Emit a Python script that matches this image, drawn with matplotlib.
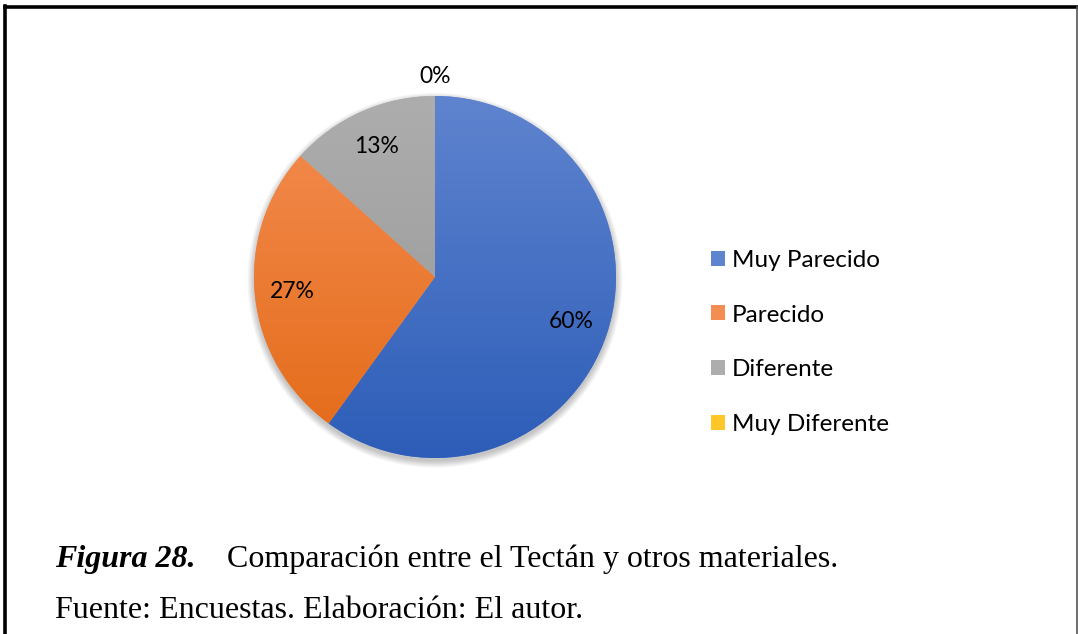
import numpy as np
import matplotlib.pyplot as plt
from matplotlib.patches import Patch
from matplotlib.lines import Line2D
from matplotlib.colors import LinearSegmentedColormap

# respuestas de la encuesta (15 encuestados)
categorias = ['Muy Parecido', 'Parecido', 'Diferente', 'Muy Diferente']
respuestas = [9, 4, 2, 0]

colores_claros = ['#5F84CF', '#F48D52', '#ADADAD', '#FFC629']
colores_oscuros = ['#2D5DB8', '#E36A17', '#969696', '#E8AE00']

W, H = 1078, 634
fig = plt.figure(figsize=(W / 100, H / 100), dpi=100)

# marco del documento
fig.add_artist(Line2D([5 / W, 5 / W], [0, 1 - 6 / H], color='black', lw=2.6))
fig.add_artist(Line2D([5 / W, 1], [1 - 7 / H, 1 - 7 / H], color='black', lw=2.6))
fig.add_artist(Line2D([1076.5 / W, 1076.5 / W], [0, 1 - 7 / H], color='#555555', lw=1.2))

cx, cy, r = 435, 277, 181
ax = fig.add_axes([(cx - r) / W, (H - cy - r) / H, 2 * r / W, 2 * r / H])

wedges, textos, pcts = ax.pie(respuestas, colors=colores_claros, startangle=90,
                              counterclock=False, autopct='%.0f%%',
                              pctdistance=0.79, radius=1,
                              textprops=dict(fontsize=16.5, family='Lato', color='black'))

# sombra suave
for k in range(10):
    ax.add_patch(plt.Circle((0.0, -0.018), 1.0 + 0.004 * k, color='black',
                            alpha=0.022, zorder=0, lw=0, clip_on=False))

# degradado vertical en cada sector
grad = np.linspace(0, 1, 256).reshape(-1, 1)
for w, c1, c2 in zip(wedges, colores_claros, colores_oscuros):
    cmap = LinearSegmentedColormap.from_list('g', [c2, c1])
    im = ax.imshow(grad, cmap=cmap, extent=[-1, 1, -1, 1], origin='lower',
                   zorder=w.get_zorder() + 0.1, aspect='auto')
    im.set_clip_path(w)

for t in pcts:
    t.set_zorder(5)

# etiqueta del 0% fuera del sector
for w, t, v in zip(wedges, pcts, respuestas):
    if v == 0:
        ang = np.deg2rad((w.theta1 + w.theta2) / 2)
        t.set_position((1.11 * np.cos(ang), 1.11 * np.sin(ang)))

ax.set_xlim(-1, 1)
ax.set_ylim(-1, 1)
ax.axis('off')

handles = [Patch(facecolor=c, edgecolor='none') for c in colores_claros]
fig.legend(handles, categorias, loc='upper left',
           bbox_to_anchor=(701 / W, 1 - 240 / H), frameon=False,
           prop=dict(family='Lato', size=17.5), handlelength=0.58,
           handleheight=0.58, handletextpad=0.3, labelspacing=1.39,
           borderaxespad=0)

fig.text(55 / W, 1 - 567 / H, 'Figura 28.', family='Liberation Serif',
         style='italic', weight='bold', size=23, va='baseline')
fig.text(227 / W, 1 - 567 / H, 'Comparación entre el Tectán y otros materiales.',
         family='Liberation Serif', size=23, va='baseline')
fig.text(55 / W, 1 - 618 / H, 'Fuente: Encuestas. Elaboración: El autor.',
         family='Liberation Serif', size=23, va='baseline')

fig.savefig('out.png', dpi=100)
